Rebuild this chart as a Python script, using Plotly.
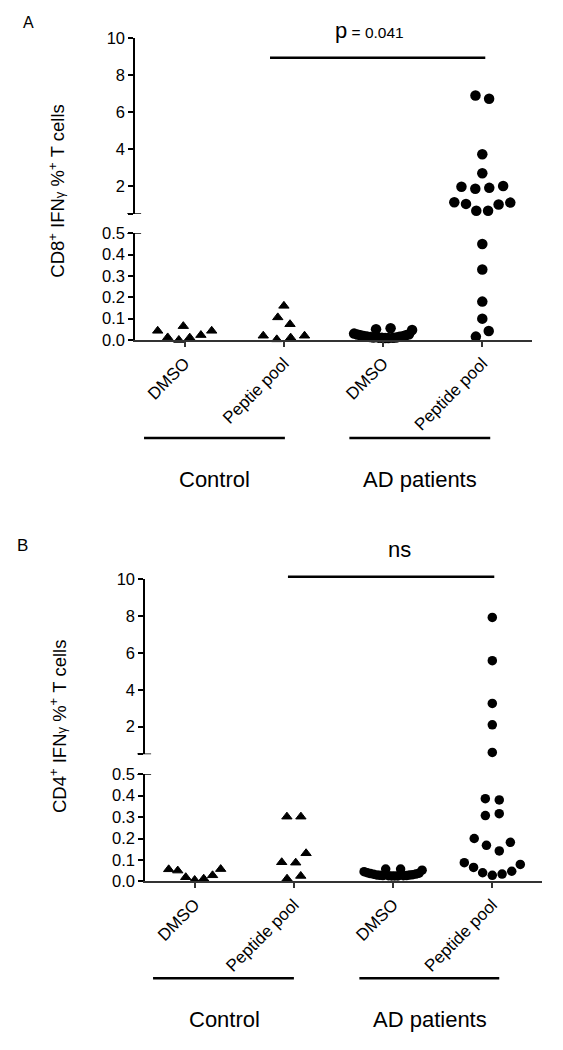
import numpy as np
import plotly.graph_objects as go

W, H = 563, 1050

# ---------------- data ----------------
categories_A = ["DMSO", "Peptie pool", "DMSO", "Peptide pool"]
categories_B = ["DMSO", "Peptide pool", "DMSO", "Peptide pool"]
groups = ["Control", "AD patients"]

A_ctrl_dmso = [0.043, 0.012, 0.0, 0.065, 0.011, 0.023, 0.043]
A_ctrl_pep = [0.02, 0.003, 0.011, 0.02, 0.106, 0.074, 0.16]
A_ad_dmso = [0.03, 0.026, 0.022, 0.019, 0.016, 0.014, 0.012, 0.05, 0.011, 0.01,
             0.009, 0.009, 0.055, 0.01, 0.012, 0.015, 0.018, 0.022, 0.027, 0.047]
A_ad_pep = [6.9, 6.73, 3.72, 2.69, 1.96, 1.85, 1.9, 2.0, 1.12, 1.03, 0.66, 0.66,
            1.0, 1.1, 0.45, 0.33, 0.18, 0.1, 0.016, 0.042]

B_ctrl_dmso = [0.056, 0.05, 0.019, 0.006, 0.012, 0.028, 0.057]
B_ctrl_pep = [0.302, 0.302, 0.089, 0.087, 0.131, 0.012, 0.025]
B_ad_dmso = [0.045, 0.04, 0.036, 0.033, 0.03, 0.028, 0.027, 0.057, 0.026, 0.025,
             0.025, 0.025, 0.057, 0.026, 0.027, 0.029, 0.031, 0.034, 0.038, 0.052]
B_ad_pep = [7.93, 5.58, 3.26, 2.1, 0.6, 0.386, 0.38, 0.307, 0.316, 0.2, 0.168,
            0.142, 0.182, 0.087, 0.065, 0.04, 0.028, 0.034, 0.047, 0.079]

p_text_A = "p"
p_value_A = "= 0.041"
sig_B = "ns"
ytitle_A = "CD8<sup>+</sup> IFN<span style='font-size:13px'>γ</span> %<sup>+</sup> T cells"
ytitle_B = "CD4<sup>+</sup> IFN<span style='font-size:13px'>γ</span> %<sup>+</sup> T cells"

BREAK = 0.5
LOW_RANGE = [0, 0.5]
UP_RANGE = [0.5, 10]
UP_TICKS = [0.5, 2, 4, 6, 8, 10]
UP_TICKTEXT = [" ", "2", "4", "6", "8", "10"]
LOW_TICKS = [0, 0.1, 0.2, 0.3, 0.4, 0.5]
LOW_TICKTEXT = ["0.0", "0.1", "0.2", "0.3", "0.4", "0.5"]

# ---------------- layout geometry (pixels -> paper) ----------------
def ydom(top_px, bot_px):
    return [1 - bot_px / H, 1 - top_px / H]

def xdom(l_px, r_px):
    return [l_px / W, r_px / W]

XA = xdom(135.1, 531.9)
XB = xdom(145.1, 541.9)
YA_UP = ydom(38.3, 213.7)
YA_LOW = ydom(233.3, 340.0)
YB_UP = ydom(579.3, 754.3)
YB_LOW = ydom(774.3, 881.3)

FONT = "Arial, Liberation Sans, sans-serif"


def swarm(values, cat, y_range, y_dom, x_dom, d=14.0, gmin=5.5, wmax=56.0, thresh=14.5):
    """Simple beeswarm in pixel space: rows by value, points kept in data order."""
    if not values:
        return []
    px_y = (y_dom[1] - y_dom[0]) * H / (y_range[1] - y_range[0])
    px_x = (x_dom[1] - x_dom[0]) * W / 4.0
    ypx = [v * px_y for v in values]
    order = sorted(range(len(values)), key=lambda i: values[i])
    rows = []
    for i in order:
        if rows and ypx[i] - ypx[rows[-1][0]] <= thresh:
            rows[-1].append(i)
        else:
            rows.append([i])
    xs = [0.0] * len(values)
    for row in rows:
        row = sorted(row)
        pos = [0.0]
        for a, b in zip(row[:-1], row[1:]):
            dy = abs(ypx[a] - ypx[b])
            g = np.sqrt(d * d - dy * dy) if dy < d else 0.0
            pos.append(pos[-1] + max(g, gmin))
        width = pos[-1]
        scale = min(1.0, wmax / width) if width > 0 else 1.0
        for k, i in enumerate(row):
            xs[i] = cat + (pos[k] - width / 2) * scale / px_x
    return xs


fig = go.Figure()


def add_group(values, cat, symbol, size, xaxis, ylow, yup, xd, dlow, dup, wmax):
    low = [v for v in values if v <= BREAK]
    up = [v for v in values if v > BREAK]
    marker = dict(symbol=symbol, size=size, color="black",
                  line=dict(width=1 if symbol != "circle" else 0, color="black"))
    if low:
        fig.add_trace(go.Scatter(x=swarm(low, cat, LOW_RANGE, dlow, xd, wmax=wmax), y=low,
                                 mode="markers", marker=marker, xaxis=xaxis, yaxis=ylow,
                                 cliponaxis=False, showlegend=False, hoverinfo="y"))
    if up:
        fig.add_trace(go.Scatter(x=swarm(up, cat, UP_RANGE, dup, xd, wmax=wmax), y=up,
                                 mode="markers", marker=marker, xaxis=xaxis, yaxis=yup,
                                 cliponaxis=False, showlegend=False, hoverinfo="y"))


# Panel A
add_group(A_ctrl_dmso, 0, "triangle-up", 9, "x", "y", "y2", XA, YA_LOW, YA_UP, 54)
add_group(A_ctrl_pep, 1, "triangle-up", 9, "x", "y", "y2", XA, YA_LOW, YA_UP, 54)
add_group(A_ad_dmso, 2, "circle", 10.5, "x", "y", "y2", XA, YA_LOW, YA_UP, 58)
add_group(A_ad_pep, 3, "circle", 10.5, "x", "y", "y2", XA, YA_LOW, YA_UP, 56)
# Panel B
add_group(B_ctrl_dmso, 0, "triangle-up", 9, "x2", "y3", "y4", XB, YB_LOW, YB_UP, 52)
add_group(B_ctrl_pep, 1, "triangle-up", 9, "x2", "y3", "y4", XB, YB_LOW, YB_UP, 52)
add_group(B_ad_dmso, 2, "circle", 9.5, "x2", "y3", "y4", XB, YB_LOW, YB_UP, 58)
add_group(B_ad_pep, 3, "circle", 9.5, "x2", "y3", "y4", XB, YB_LOW, YB_UP, 56)

tickfont_y = dict(family=FONT, size=16.5, color="black")
tickfont_x = dict(family=FONT, size=17, color="black")

xcommon = dict(range=[-0.5, 3.5], tickvals=[0, 1, 2, 3], showline=True, linecolor="#333",
               linewidth=1.5, ticks="outside", ticklen=5, tickwidth=1.5, tickcolor="#333",
               tickangle=-45, showgrid=False, zeroline=False, tickfont=tickfont_x)
ycommon = dict(showline=True, linecolor="black", linewidth=1.5, ticks="outside", ticklen=5,
               tickwidth=1.5, tickcolor="black", showgrid=False, zeroline=False,
               tickfont=tickfont_y)

fig.update_layout(
    width=W, height=H, margin=dict(l=0, r=0, t=0, b=0, autoexpand=False),
    paper_bgcolor="white", plot_bgcolor="white", showlegend=False,
    font=dict(family=FONT, color="black"),
    xaxis=dict(domain=XA, anchor="y", ticktext=categories_A, **xcommon),
    xaxis2=dict(domain=XB, anchor="y3", ticktext=categories_B, **xcommon),
    yaxis=dict(domain=YA_LOW, anchor="x", range=LOW_RANGE, tickvals=LOW_TICKS,
               ticktext=LOW_TICKTEXT, **ycommon),
    yaxis2=dict(domain=YA_UP, anchor="x", range=UP_RANGE, tickvals=UP_TICKS,
                ticktext=UP_TICKTEXT, **ycommon),
    yaxis3=dict(domain=YB_LOW, anchor="x2", range=LOW_RANGE, tickvals=LOW_TICKS,
                ticktext=LOW_TICKTEXT, **ycommon),
    yaxis4=dict(domain=YB_UP, anchor="x2", range=UP_RANGE, tickvals=UP_TICKS,
                ticktext=UP_TICKTEXT, **ycommon),
)

shapes = []
# break marks at the ends of the axis segments
for xr, yl, yu, xd in [("x", "y", "y2", XA), ("x2", "y3", "y4", XB)]:
    wpx = (xd[1] - xd[0]) * W
    for yr in (yl, yu):
        shapes.append(dict(type="line", xref=xr + " domain", yref=yr,
                           x0=-8 / wpx, x1=6 / wpx, y0=BREAK, y1=BREAK,
                           line=dict(color="black", width=1.5)))

# significance bars
shapes.append(dict(type="line", xref="x", yref="paper", x0=0.86, x1=3.03,
                   y0=1 - 57.7 / H, y1=1 - 57.7 / H, line=dict(color="black", width=2.5)))
shapes.append(dict(type="line", xref="x2", yref="paper", x0=0.94, x1=3.02,
                   y0=1 - 576.7 / H, y1=1 - 576.7 / H, line=dict(color="black", width=2.5)))
# group bars
for xr, ypx, spans in [("x", 438.0, [(-0.41, 1.01), (1.66, 3.08)]),
                       ("x2", 978.3, [(-0.42, 1.0), (1.66, 3.07)])]:
    for a, b in spans:
        shapes.append(dict(type="line", xref=xr, yref="paper", x0=a, x1=b,
                           y0=1 - ypx / H, y1=1 - ypx / H,
                           line=dict(color="black", width=2.5)))
fig.update_layout(shapes=shapes)

ann = []
C = dict(showarrow=False, xanchor="center", yanchor="middle")
# group labels
for xr, ypx in [("x", 479.0), ("x2", 1019.0)]:
    ann.append(dict(text=groups[0], xref=xr, yref="paper", x=0.3, y=1 - ypx / H,
                    font=dict(size=22, family=FONT, color="black"), **C))
    ann.append(dict(text=groups[1], xref=xr, yref="paper", x=2.37, y=1 - ypx / H,
                    font=dict(size=22, family=FONT, color="black"), **C))
# significance texts
ann.append(dict(text=p_text_A + "<span style='font-size:15.5px'> " + p_value_A + "</span>",
                xref="x", yref="paper", x=1.865, y=1 - 31.0 / H,
                font=dict(size=22, family=FONT, color="black"), **C))
ann.append(dict(text=sig_B, xref="x2", yref="paper", x=2.06, y=1 - 549.0 / H,
                font=dict(size=22, family=FONT, color="black"), **C))
# y titles
ann.append(dict(text=ytitle_A, xref="paper", yref="paper", x=56.7 / W, y=1 - 191.0 / H,
                textangle=-90, font=dict(size=18.5, family=FONT, color="black"), **C))
ann.append(dict(text=ytitle_B, xref="paper", yref="paper", x=58.0 / W, y=1 - 727.0 / H,
                textangle=-90, font=dict(size=18.5, family=FONT, color="black"), **C))
# panel letters
ann.append(dict(text="A", xref="paper", yref="paper", x=28.0 / W, y=1 - 22.5 / H,
                font=dict(size=16, family=FONT, color="black"), **C))
ann.append(dict(text="B", xref="paper", yref="paper", x=22.5 / W, y=1 - 545.5 / H,
                font=dict(size=17, family=FONT, color="black"), **C))
fig.update_layout(annotations=ann)

fig.write_html("out.html", config={"displayModeBar": False},
               post_script="document.body.style.margin='0';document.body.style.overflow='hidden';")
